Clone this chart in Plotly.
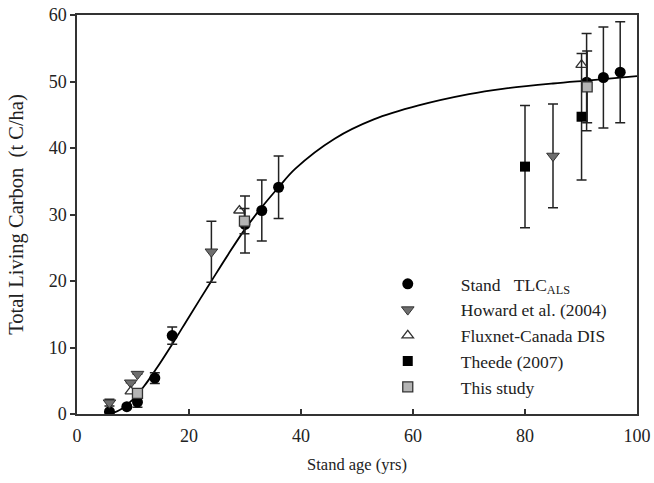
import plotly.graph_objects as go

# Fitted curve
curve_age = [6, 8, 10, 12, 14, 17, 20, 24, 27, 30, 33, 36, 39, 46, 53, 61, 70, 76, 85, 92, 100]
curve_tlc = [0, 0.8, 2.2, 4.2, 6.6, 10.5, 14.6, 20.0, 24.0, 27.8, 31.1, 34.1, 36.9, 41.4, 44.3, 46.4, 48.1, 48.9, 49.7, 50.2, 50.8]

# Stand TLC_ALS
tlc_age = [5.8, 8.9, 10.8, 13.9, 17, 30, 33, 36, 91, 94, 97]
tlc_val = [0.35, 1.1, 1.8, 5.4, 11.8, 28.5, 30.6, 34.1, 49.9, 50.6, 51.4]
tlc_err = [0, 0, 0.8, 0.8, 1.3, 4.3, 4.6, 4.7, 7.3, 7.6, 7.6]

# Howard et al. (2004)
how_age = [5.8, 9.6, 10.8, 24, 85]
how_val = [1.7, 4.7, 6.0, 24.4, 38.8]
how_err = [0.5, 0, 0, 4.6, 7.8]

# Fluxnet-Canada DIS
flx_age = [9.6, 29, 90.1]
flx_val = [3.4, 30.6, 52.5]

# Theede (2007)
the_age = [80, 90.1]
the_val = [37.2, 44.7]
the_err = [9.2, 9.5]

# This study
ths_age = [10.8, 29.9, 91.1]
ths_val = [3.1, 29.0, 49.2]
ths_err = [0, 1.9, 5.4]

FONT = "Liberation Serif"
EB = dict(type="data", thickness=1.5, width=5, color="#222222")
NB = "\u00a0"

fig = go.Figure()
fig.add_trace(go.Scatter(x=curve_age, y=curve_tlc, mode="lines", line=dict(color="black", width=1.8, shape="spline"),
                         showlegend=False, hoverinfo="skip"))
fig.add_trace(go.Scatter(x=tlc_age, y=tlc_val, mode="markers", name=f"Stand{NB*3}TLC<sub>ALS</sub>",
                         error_y=dict(array=tlc_err, **EB),
                         marker=dict(symbol="circle", size=11, color="black")))
fig.add_trace(go.Scatter(x=how_age, y=how_val, mode="markers", name="Howard et al. (2004)",
                         error_y=dict(array=how_err, **EB),
                         marker=dict(symbol="triangle-down", size=11, color="#6e6e6e", line=dict(color="#333", width=1))))
fig.add_trace(go.Scatter(x=flx_age, y=flx_val, mode="markers", name="Fluxnet-Canada DIS",
                         marker=dict(symbol="triangle-up", size=10, color="white", line=dict(color="#333", width=1.3))))
fig.add_trace(go.Scatter(x=the_age, y=the_val, mode="markers", name="Theede (2007)",
                         error_y=dict(array=the_err, **EB),
                         marker=dict(symbol="square", size=10, color="black")))
fig.add_trace(go.Scatter(x=ths_age, y=ths_val, mode="markers", name="This study",
                         error_y=dict(array=ths_err, **EB),
                         marker=dict(symbol="square", size=10, color="#b4b4b4", line=dict(color="#333", width=1.3))))

fig.update_layout(
    width=654, height=483,
    margin=dict(l=77, r=17, t=15, b=69),
    paper_bgcolor="white", plot_bgcolor="white",
    font=dict(family=FONT, size=18, color="#222"),
    legend=dict(x=0.496, y=0.371, xanchor="left", yanchor="top", bgcolor="rgba(0,0,0,0)",
                font=dict(family=FONT, size=17.5, color="#222"), itemwidth=96, tracegroupgap=0),
)
fig.update_xaxes(range=[0, 100], tickvals=[0, 20, 40, 60, 80, 100], ticks="inside", ticklen=5, tickwidth=1.5,
                 tickcolor="#333", showline=True, linecolor="#333", linewidth=1.5, mirror=True,
                 showgrid=False, zeroline=False, automargin=False, ticklabelstandoff=5,
                 title=dict(text="Stand age (yrs)", font=dict(family=FONT, size=16.5), standoff=13))
fig.update_yaxes(range=[0, 60], tickvals=[0, 10, 20, 30, 40, 50, 60], ticks="outside", ticklen=5, tickwidth=1.5,
                 tickcolor="#333", showline=True, linecolor="#333", linewidth=1.5, mirror=True,
                 showgrid=False, zeroline=False, automargin=False,
                 title=dict(text=f"Total Living Carbon{NB*2}(t C/ha)", font=dict(family=FONT, size=20.5), standoff=19))

fig.write_html("out.html", config={"displayModeBar": False},
               post_script="document.body.style.margin='0';document.body.style.padding='0';")
